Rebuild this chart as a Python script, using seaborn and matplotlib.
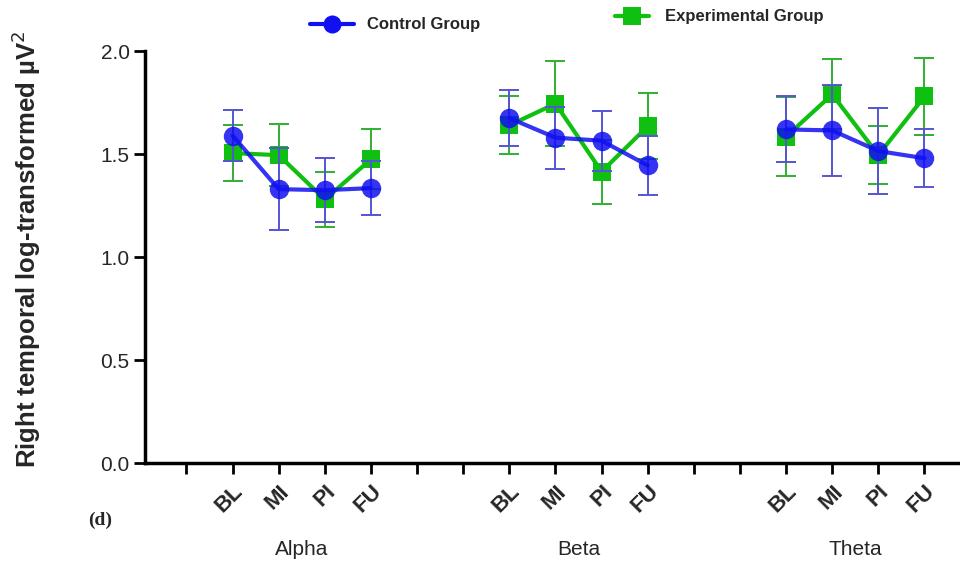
import matplotlib
matplotlib.use("Agg")
import matplotlib.pyplot as plt
from matplotlib.lines import Line2D
import seaborn as sns
import pandas as pd

# bands and sessions
bands = ["Alpha", "Beta", "Theta"]
sessions = ["BL", "MI", "PI", "FU"]

# means, ordered band by band
control_mean = [1.59, 1.33, 1.325, 1.335,
                1.675, 1.58, 1.565, 1.445,
                1.62, 1.615, 1.515, 1.48]
control_err = [0.125, 0.20, 0.155, 0.13,
               0.135, 0.15, 0.145, 0.145,
               0.16, 0.22, 0.21, 0.14]
exp_mean = [1.505, 1.495, 1.28, 1.475,
            1.64, 1.745, 1.415, 1.635,
            1.585, 1.79, 1.495, 1.78]
exp_err = [0.135, 0.15, 0.135, 0.145,
           0.14, 0.205, 0.155, 0.16,
           0.19, 0.17, 0.14, 0.185]

# x slot of each session: 4 per band, 2 empty ticks between bands
positions = [1, 2, 3, 4, 7, 8, 9, 10, 13, 14, 15, 16]

rows = []
for i, pos in enumerate(positions):
    band = bands[i // 4]
    rows.append(dict(pos=pos, band=band, group="Experimental Group", value=exp_mean[i], err=exp_err[i]))
    rows.append(dict(pos=pos, band=band, group="Control Group", value=control_mean[i], err=control_err[i]))
df = pd.DataFrame(rows)

sns.set_style("white")
plt.rcParams["font.family"] = ["Liberation Sans", "DejaVu Sans"]

blue = "#1010f0"
blue_err = "#5555d5"
green = "#10c010"
green_err = "#30b030"

fig = plt.figure(figsize=(9.6, 5.62), dpi=100)
ax = fig.add_axes([0.151, 0.176, 0.849, 0.733])

exp = df[df.group == "Experimental Group"]
ctl = df[df.group == "Control Group"]

# error bars first, then lines; control drawn on top
ax.errorbar(exp.pos, exp.value, yerr=exp.err, fmt="none", ecolor=green_err,
            elinewidth=1.4, capsize=7, capthick=1.4, zorder=2, clip_on=False)
sns.lineplot(data=exp, x="pos", y="value", units="band", estimator=None,
             color=green, lw=3, marker="s", markersize=13, markeredgewidth=0,
             ax=ax, zorder=3, legend=False)
ax.errorbar(ctl.pos, ctl.value, yerr=ctl.err, fmt="none", ecolor=blue_err,
            elinewidth=1.4, capsize=7, capthick=1.4, zorder=4, clip_on=False)
sns.lineplot(data=ctl, x="pos", y="value", units="band", estimator=None,
             color=blue, lw=3, marker="o", markersize=14, markeredgewidth=0,
             alpha=0.85, ax=ax, zorder=5, legend=False)

ax.set_xlim(-0.9, 16.77)
ax.set_ylim(0, 2.0)
ax.set_yticks([0.0, 0.5, 1.0, 1.5, 2.0])
ax.set_yticklabels(["0.0", "0.5", "1.0", "1.5", "2.0"], fontsize=15)
ax.set_xticks(range(0, 17))
xlabels = []
for t in range(0, 17):
    if t in positions:
        xlabels.append(sessions[positions.index(t) % 4])
    else:
        xlabels.append("")
ax.set_xticklabels(xlabels, rotation=45, ha="right", rotation_mode="anchor",
                   fontsize=16, fontweight="bold")
ax.tick_params(axis="both", direction="out", length=8, width=2, color="black",
               bottom=True, left=True)
ax.tick_params(axis="x", pad=5)
ax.tick_params(axis="y", pad=3)
for side in ["top", "right"]:
    ax.spines[side].set_visible(False)
for side in ["left", "bottom"]:
    ax.spines[side].set_linewidth(2.5)
    ax.spines[side].set_color("black")

ax.set_xlabel("")
ax.set_ylabel("Right temporal log-transformed µV$^2$", fontsize=18.5,
              fontweight="bold")
ax.yaxis.set_label_coords(-0.125, 0.52)

# band names under the session labels
for b, band in enumerate(bands):
    center = sum(positions[b * 4:b * 4 + 4]) / 4
    ax.text(center, -0.21, band, transform=ax.get_xaxis_transform(),
            ha="center", va="center", fontsize=15)

fig.text(0.092, 0.075, "(d)", fontsize=14, fontweight="bold",
         family=["Liberation Serif", "DejaVu Serif"], va="center")

# two separate legend entries, as in the original
h_ctl = Line2D([], [], color=blue, lw=3, marker="o", markersize=13, markeredgewidth=0)
h_exp = Line2D([], [], color=green, lw=3, marker="s", markersize=13, markeredgewidth=0)
fig.legend([h_ctl], ["Control Group"], loc="center left",
           bbox_to_anchor=(302 / 960, 1 - 25 / 562), frameon=False,
           handlelength=2.6, borderpad=0, handletextpad=0.8,
           prop={"weight": "bold", "size": 12})
fig.legend([h_exp], ["Experimental Group"], loc="center left",
           bbox_to_anchor=(607 / 960, 1 - 17 / 562), frameon=False,
           handlelength=2.0, borderpad=0, handletextpad=1.0,
           prop={"weight": "bold", "size": 12})

fig.savefig("out.png", dpi=100)
